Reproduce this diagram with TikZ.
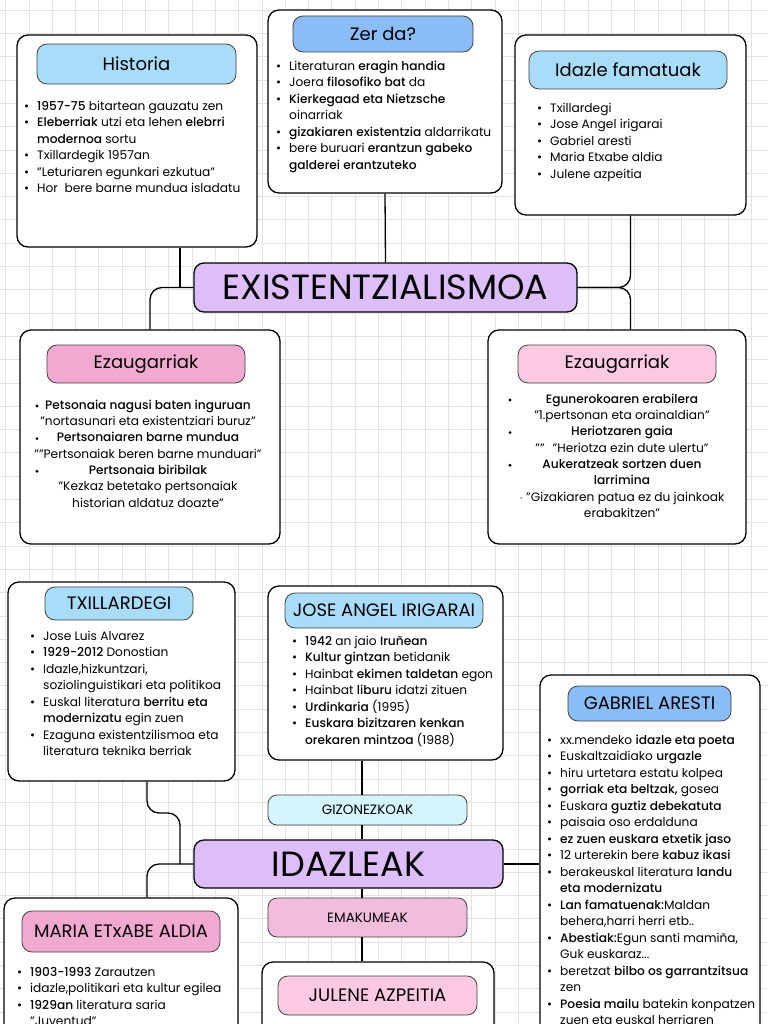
\documentclass[tikz,border=0pt]{standalone}
\usepackage{fontspec}
\setmainfont{Poppins}[BoldFont={Poppins Medium}]
\usetikzlibrary{positioning}

\definecolor{skyhead}{HTML}{A9DCF8}
\definecolor{bluehead}{HTML}{8ABCF6}
\definecolor{lilac}{HTML}{DDBEF9}
\definecolor{rosehead}{HTML}{F2A9D1}
\definecolor{pinkhead}{HTML}{FBC9E2}
\definecolor{icetag}{HTML}{D6F4FC}
\definecolor{rosetag}{HTML}{F2BCDD}

\newcommand{\bul}{\strut\makebox[13pt][l]{\textbullet}}
\newcommand{\nxt}{\strut\hspace*{13pt}}

\begin{document}
\begin{tikzpicture}[x=1pt, y=-1pt,
    card/.style={draw=black, line width=1.3pt, fill=white, rounded corners=11pt, inner sep=0pt},
    head/.style={draw=black!75, line width=0.8pt, rounded corners=10pt, inner sep=0pt, font=\fontsize{18}{21}\selectfont},
    main/.style={draw=black, line width=1.3pt, fill=lilac, rounded corners=10pt, inner sep=0pt, font=\fontsize{35}{40}\selectfont},
    tag/.style={draw=black!75, line width=0.8pt, rounded corners=9pt, inner sep=0pt, font=\fontsize{13.5}{16}\selectfont},
    lst/.style={anchor=north west, align=left, inner sep=0pt, font=\fontsize{12.2}{16.5}\selectfont},
    clst/.style={anchor=north, align=center, inner sep=0pt, font=\fontsize{12.2}{16.3}\selectfont},
    link/.style={line width=1.3pt, black, rounded corners=12pt},
    gridline/.style={gray!22, line width=0.5pt}
]
    \useasboundingbox (0,0) rectangle (768,1024);
    \clip (0,0) rectangle (768,1024);
    \fill[white] (0,0) rectangle (768,1024);

    % Notebook grid
    \foreach \i in {0,...,33}
        \draw[gridline] ({5.5+23.3*\i},0) -- ({5.5+23.3*\i},1024);
    \foreach \i in {0,...,44}
        \draw[gridline] (0,{10+23.3*\i}) -- (768,{10+23.3*\i});

    % Top row cards
    \node[card, minimum width=240, minimum height=212] (hist) at (137,141) {};
    \node[head, fill=skyhead, minimum width=199, minimum height=40] (histh) at (136.5,64) {Historia};
    \node[lst] (histtxt) at (24,98.7) {%
        \bul\textbf{1957-75} bitartean gauzatu zen\\
        \bul\textbf{Eleberriak} utzi eta lehen \textbf{elebrri}\\
        \nxt\textbf{modernoa} sortu\\
        \bul Txillardegik 1957an\\
        \bul"Leturiaren egunkari ezkutua"\\
        \bul Hor\ \ bere barne mundua isladatu};

    \node[card, minimum width=234, minimum height=183] (zer) at (385,101.5) {};
    \node[head, fill=bluehead, minimum width=180, minimum height=36] (zerh) at (383,34) {Zer da?};
    \node[lst] (zertxt) at (276,58.7) {%
        \bul Literaturan \textbf{eragin handia}\\
        \bul Joera \textbf{filosofiko bat} da\\
        \bul\textbf{Kierkegaad eta Nietzsche}\\
        \nxt oinarriak\\
        \bul\textbf{gizakiaren existentzia} aldarrikatu\\
        \bul bere buruari \textbf{erantzun gabeko}\\
        \nxt\textbf{galderei erantzuteko}};

    \node[card, minimum width=231, minimum height=180] (fam) at (630.5,125) {};
    \node[head, fill=skyhead, minimum width=198, minimum height=38] (famh) at (628,70) {Idazle famatuak};
    \node[lst] (famtxt) at (537,100.7) {%
        \bul Txillardegi\\
        \bul Jose Angel irigarai\\
        \bul Gabriel aresti\\
        \bul Maria Etxabe aldia\\
        \bul Julene azpeitia};

    % Central topic
    \node[main, minimum width=383, minimum height=49] (exi) at (385.5,287.5) {EXISTENTZIALISMOA};

    % Characteristics
    \node[card, minimum width=260, minimum height=214] (ezl) at (150,437) {};
    \node[head, fill=rosehead, minimum width=198, minimum height=38] (ezlh) at (146,364) {Ezaugarriak};
    \node[clst] (ezltxt) at (148,397.7) {%
        \strut\textbf{Petsonaia nagusi baten inguruan}\\
        \strut"nortasunari eta existentziari buruz"\\
        \strut\textbf{Pertsonaiaren barne mundua}\\
        \strut""Pertsonaiak beren barne munduari"\\
        \strut\textbf{Pertsonaia biribilak}\\
        \strut"Kezkaz betetako pertsonaiak\\
        \strut historian aldatuz doazte"};
    \foreach \y in {406,438.6,471.2}
        \fill (37,\y) circle (1.6);

    \node[card, minimum width=258, minimum height=214] (ezr) at (617,437) {};
    \node[head, fill=pinkhead, minimum width=198, minimum height=38] (ezrh) at (617,364) {Ezaugarriak};
    \node[clst] (ezrtxt) at (622,391.7) {%
        \strut\textbf{Egunerokoaren erabilera}\\
        \strut"1.pertsonan eta orainaldian"\\
        \strut\textbf{Heriotzaren gaia}\\
        \strut""\hspace{8pt}"Heriotza ezin dute ulertu"\\
        \strut\textbf{Aukeratzeak sortzen duen}\\
        \strut\textbf{larrimina}\\
        \strut$\cdot$ "Gizakiaren patua ez du jainkoak\\
        \strut erabakitzen"};
    \foreach \y in {400,432.6,465.2}
        \fill (510,\y) circle (1.6);

    % Writers, men
    \node[card, minimum width=227, minimum height=199] (tx) at (121.5,681.5) {};
    \node[head, fill=skyhead, minimum width=148, minimum height=33] (txh) at (119,603.5) {TXILLARDEGI};
    \node[lst] (txtxt) at (30,628.7) {%
        \bul Jose Luis Alvarez\\
        \bul\textbf{1929-2012} Donostian\\
        \bul Idazle,hizkuntzari,\\
        \nxt soziolinguistikari eta politikoa\\
        \bul Euskal literatura \textbf{berritu eta}\\
        \nxt\textbf{modernizatu} egin zuen\\
        \bul Ezaguna existentzilismoa eta\\
        \nxt literatura teknika berriak};

    \node[card, minimum width=235, minimum height=174] (jose) at (385.5,673) {};
    \node[head, fill=skyhead, minimum width=198, minimum height=35] (joseh) at (384,610.5) {JOSE ANGEL IRIGARAI};
    \node[lst] (josetxt) at (292,633.7) {%
        \bul\textbf{1942} an jaio \textbf{Iruñean}\\
        \bul\textbf{Kultur gintzan} betidanik\\
        \bul Hainbat \textbf{ekimen taldetan} egon\\
        \bul Hainbat \textbf{liburu} idatzi zituen\\
        \bul\textbf{Urdinkaria} (1995)\\
        \bul\textbf{Euskara bizitzaren kenkan}\\
        \nxt\textbf{orekaren mintzoa} (1988)};

    \node[card, minimum width=220, minimum height=365] (gab) at (650,857.5) {};
    \node[head, fill=bluehead, minimum width=163, minimum height=35] (gabh) at (649.5,703.5) {GABRIEL ARESTI};
    \node[lst] (gabtxt) at (547,732.7) {%
        \bul xx.mendeko \textbf{idazle eta poeta}\\
        \bul Euskaltzaidiako \textbf{urgazle}\\
        \bul hiru urtetara estatu kolpea\\
        \bul\textbf{gorriak eta beltzak,} gosea\\
        \bul Euskara \textbf{guztiz debekatuta}\\
        \bul paisaia oso erdalduna\\
        \bul\textbf{ez zuen euskara etxetik jaso}\\
        \bul 12 urterekin bere \textbf{kabuz ikasi}\\
        \bul berakeuskal literatura \textbf{landu}\\
        \nxt\textbf{eta modernizatu}\\
        \bul\textbf{Lan famatuenak:}Maldan\\
        \nxt behera,harri herri etb..\\
        \bul\textbf{Abestiak:}Egun santi mamiña,\\
        \nxt Guk euskaraz...\\
        \bul beretzat \textbf{bilbo os garrantzitsua}\\
        \nxt zen\\
        \bul\textbf{Poesia mailu} batekin konpatzen\\
        \nxt zuen eta euskal herriaren};

    % Second central topic and its tags
    \node[tag, fill=icetag, minimum width=199, minimum height=30] (giz) at (367.5,810) {GIZONEZKOAK};
    \node[main, minimum width=309, minimum height=48] (ida) at (348.5,864) {IDAZLEAK};
    \node[tag, fill=rosetag, minimum width=199, minimum height=39] (ema) at (367.5,917.5) {EMAKUMEAK};

    % Writers, women
    \node[card, minimum width=234, minimum height=142] (mar) at (121,969) {};
    \node[head, fill=rosehead, minimum width=198, minimum height=41] (marh) at (121,931.5) {MARIA ETxABE ALDIA};
    \node[lst] (martxt) at (17,964.7) {%
        \bul\textbf{1903-1993} Zarautzen\\
        \bul idazle,politikari eta kultur egilea\\
        \bul\textbf{1929an} literatura saria\\
        \nxt"Juventud"};

    \node[card, minimum width=232, minimum height=78] (jul) at (378,1001) {};
    \node[head, fill=pinkhead, minimum width=199, minimum height=39] (julh) at (377.5,995.5) {JULENE AZPEITIA};

    % Connectors, upper map
    \coordinate (lftA) at (147,0);
    \coordinate (lftB) at (180,0);
    \coordinate (midax) at (362,0);
    \draw[link] (zer.south) -- (exi.north);
    \draw[link] (hist.south -| lftB) -- (exi.west -| lftB);
    \draw[link] (exi.west) -| (ezl.north);
    \draw[link] (fam.south) |- (exi.east);
    \draw[link] (exi.east) -| (ezr.north -| fam.south);

    % Connectors, lower map
    \draw[link] (tx.south -| lftA) -- (147,813) -- (180,813) -- (ida.west -| lftB);
    \draw[link] (ida.west) -| (mar.north -| lftA);
    \draw[link] (jose.south -| midax) -- (giz.north -| midax);
    \draw[link] (giz.south -| midax) -- (ida.north -| midax);
    \draw[link] (ida.south -| midax) -- (ema.north -| midax);
    \draw[link] (ema.south -| midax) -- (jul.north -| midax);
    \draw[link] (ida.east) -- (ida.east -| gab.west);

\end{tikzpicture}
\end{document}
